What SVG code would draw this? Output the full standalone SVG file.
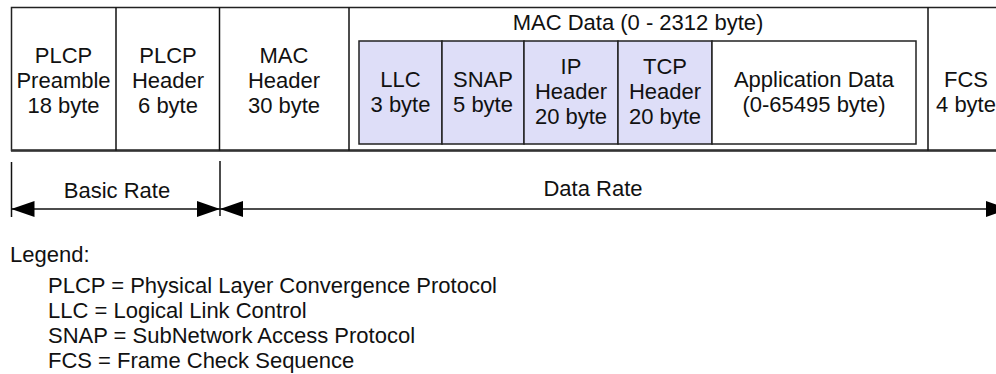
<svg xmlns="http://www.w3.org/2000/svg" width="996" height="374" viewBox="0 0 996 374">
<style>
text{font-family:"Liberation Sans",Arial,sans-serif;font-size:22px;fill:#111}
.c{text-anchor:middle}
.box{fill:#fff;stroke:#222;stroke-width:1.5}
.in{fill:#dedef8;stroke:#222;stroke-width:1.5}
.ln{stroke:#111;stroke-width:1.5;fill:none}
</style>
<defs>
<marker id="ah" viewBox="0 0 23 16" refX="23" refY="8" markerWidth="23" markerHeight="16" markerUnits="userSpaceOnUse" orient="auto-start-reverse">
<path d="M0,0 L23,8 L0,16 Z" fill="#000"/>
</marker>
</defs>
<g id="frame">
<rect class="box" x="11.5" y="7.5" width="1010" height="143"/>
<line x1="11" y1="150.5" x2="996" y2="150.5" stroke="#333" stroke-width="2.5"/>
</g>
<g id="plcp-preamble">
<line class="ln" x1="116" y1="7.5" x2="116" y2="150.5"/>
<text class="c" x="63.5" y="63">PLCP</text>
<text class="c" x="63.5" y="88">Preamble</text>
<text class="c" x="63.5" y="113">18 byte</text>
</g>
<g id="plcp-header">
<line class="ln" x1="219.5" y1="7.5" x2="219.5" y2="150.5"/>
<text class="c" x="168" y="63">PLCP</text>
<text class="c" x="168" y="88">Header</text>
<text class="c" x="168" y="113">6 byte</text>
</g>
<g id="mac-header">
<line class="ln" x1="349" y1="7.5" x2="349" y2="150.5"/>
<text class="c" x="284" y="63">MAC</text>
<text class="c" x="284" y="88">Header</text>
<text class="c" x="284" y="113">30 byte</text>
</g>
<g id="mac-data">
<text class="c" x="638" y="30">MAC Data (0 - 2312 byte)</text>
<line class="ln" x1="928" y1="7.5" x2="928" y2="150.5"/>
</g>
<g id="llc">
<rect class="in" x="359" y="41" width="83" height="103"/>
<text class="c" x="400.5" y="87">LLC</text>
<text class="c" x="400.5" y="112">3 byte</text>
</g>
<g id="snap">
<rect class="in" x="442" y="41" width="82" height="103"/>
<text class="c" x="483" y="87">SNAP</text>
<text class="c" x="483" y="112">5 byte</text>
</g>
<g id="ip-header">
<rect class="in" x="524" y="41" width="94" height="103"/>
<text class="c" x="571" y="74">IP</text>
<text class="c" x="571" y="99">Header</text>
<text class="c" x="571" y="124">20 byte</text>
</g>
<g id="tcp-header">
<rect class="in" x="618" y="41" width="94" height="103"/>
<text class="c" x="665" y="74">TCP</text>
<text class="c" x="665" y="99">Header</text>
<text class="c" x="665" y="124">20 byte</text>
</g>
<g id="app-data">
<rect class="box" x="712" y="41" width="204" height="103"/>
<text class="c" x="814" y="87">Application Data</text>
<text class="c" x="814" y="112">(0-65495 byte)</text>
</g>
<g id="fcs">
<text class="c" x="966" y="87">FCS</text>
<text class="c" x="966" y="112">4 byte</text>
</g>
<g id="connectors">
<line class="ln" x1="11.5" y1="162" x2="11.5" y2="217"/>
<line class="ln" x1="220" y1="161" x2="220" y2="216"/>
<line class="ln" x1="11.5" y1="209" x2="220" y2="209" marker-start="url(#ah)" marker-end="url(#ah)"/>
<line class="ln" x1="220" y1="209" x2="1009" y2="209" marker-start="url(#ah)" marker-end="url(#ah)"/>
<text class="c" x="117" y="198">Basic Rate</text>
<text class="c" x="593" y="196">Data Rate</text>
</g>
<g id="legend">
<text x="10" y="262">Legend:</text>
<text x="48" y="293">PLCP = Physical Layer Convergence Protocol</text>
<text x="48" y="318">LLC = Logical Link Control</text>
<text x="48" y="343">SNAP = SubNetwork Access Protocol</text>
<text x="48" y="368">FCS = Frame Check Sequence</text>
</g>
</svg>
